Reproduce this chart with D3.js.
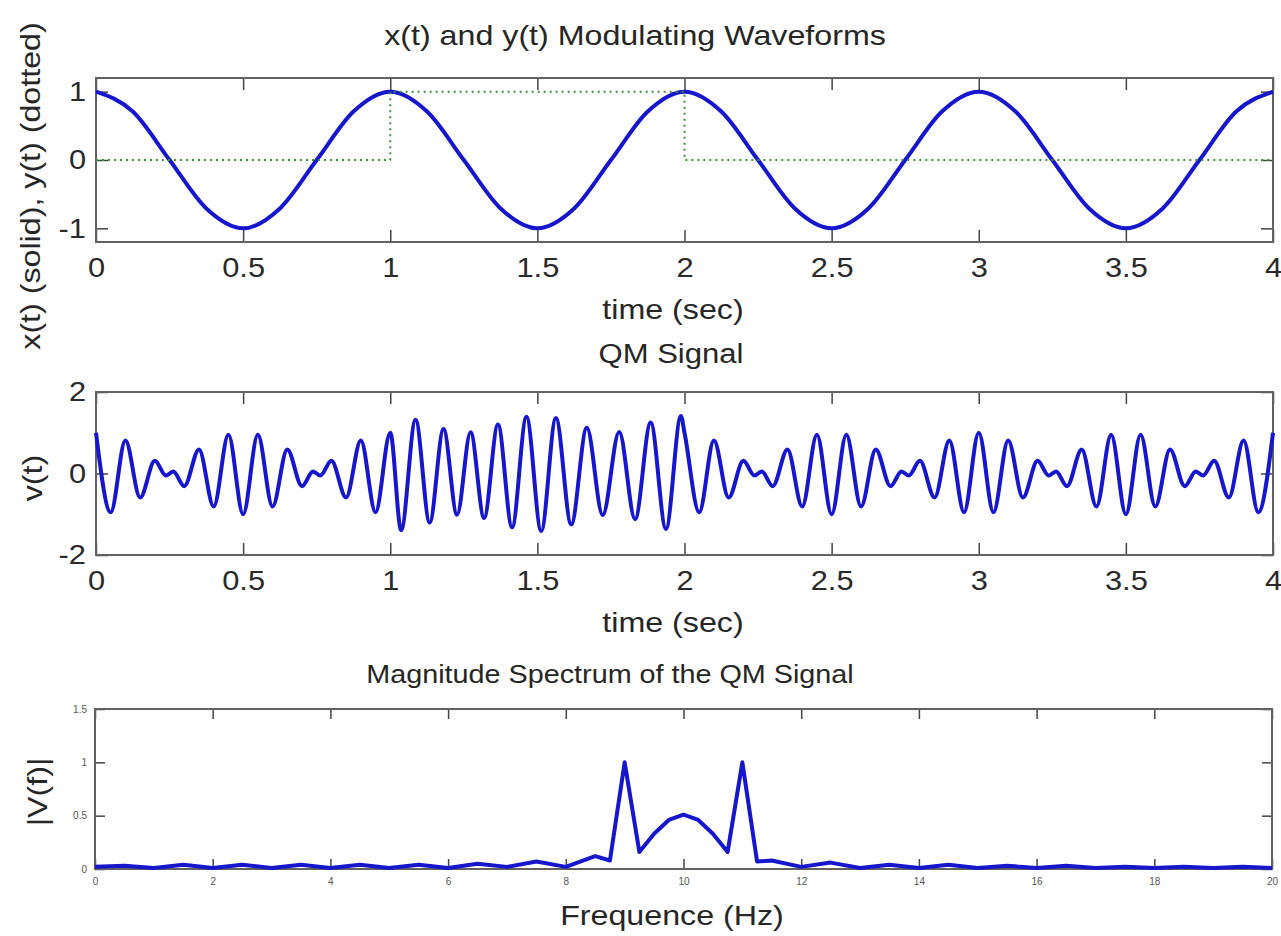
<!DOCTYPE html>
<html lang="en">
<head>
<meta charset="UTF-8" />
<script src="https://d3js.org/d3.v7.min.js"></script>
<style>
  body { margin: 0; background: #fff; }
  svg text { font-family: "Liberation Sans", Arial, sans-serif; fill: #262626; }
  .tick line { stroke: #444; stroke-width: 1.5; }
  .domain { display: none; }
</style>
<title>QM Signal</title>
</head>
<body>
<div id="chart"></div>
<script>
// ---- data ----
// x(t) (solid), sampled every 1/8 s
var xTime = [0, 0.125, 0.25, 0.375, 0.5, 0.625, 0.75, 0.875, 1, 1.125, 1.25, 1.375, 1.5, 1.625, 1.75, 1.875,
  2, 2.125, 2.25, 2.375, 2.5, 2.625, 2.75, 2.875, 3, 3.125, 3.25, 3.375, 3.5, 3.625, 3.75, 3.875, 4];
var xValue = [1, 0.71, 0, -0.71, -1, -0.71, 0, 0.71, 1, 0.71, 0, -0.71, -1, -0.71, 0, 0.71,
  1, 0.71, 0, -0.71, -1, -0.71, 0, 0.71, 1, 0.71, 0, -0.71, -1, -0.71, 0, 0.71, 1];

// y(t) (dotted) pulse
var yTime = [0, 1, 1, 2, 2, 4];
var yValue = [0, 0, 1, 1, 0, 0];

// v(t): peaks and troughs of the QM signal
var qmTime = [0, 0.05, 0.1, 0.15, 0.2, 0.2375, 0.2625, 0.3, 0.35, 0.4, 0.45, 0.5, 0.55, 0.6, 0.65, 0.7, 0.7375, 0.7625, 0.8, 0.85, 0.9, 0.95,
  1, 1.037, 1.086, 1.134, 1.181, 1.227, 1.273, 1.319, 1.366, 1.414, 1.463, 1.513, 1.563, 1.615, 1.668, 1.722, 1.778, 1.832, 1.885, 1.937, 1.988,
  2, 2.05, 2.1, 2.15, 2.2, 2.2375, 2.2625, 2.3, 2.35, 2.4, 2.45, 2.5, 2.55, 2.6, 2.65, 2.7, 2.7375, 2.7625, 2.8, 2.85, 2.9, 2.95,
  3, 3.05, 3.1, 3.15, 3.2, 3.2375, 3.2625, 3.3, 3.35, 3.4, 3.45, 3.5, 3.55, 3.6, 3.65, 3.7, 3.7375, 3.7625, 3.8, 3.85, 3.9, 3.95, 4];
var qmValue = [1, -0.95, 0.81, -0.59, 0.31, -0.05, 0.05, -0.31, 0.59, -0.81, 0.95, -1, 0.95, -0.81, 0.59, -0.31, 0.05, -0.05, 0.31, -0.59, 0.81, -0.95,
  1, -1.39, 1.32, -1.2, 1.09, -1.01, 1.01, -1.09, 1.2, -1.32, 1.39, -1.41, 1.36, -1.25, 1.12, -1.02, 1.02, -1.12, 1.25, -1.36, 1.41,
  1, -0.95, 0.81, -0.59, 0.31, -0.05, 0.05, -0.31, 0.59, -0.81, 0.95, -1, 0.95, -0.81, 0.59, -0.31, 0.05, -0.05, 0.31, -0.59, 0.81, -0.95,
  1, -0.95, 0.81, -0.59, 0.31, -0.05, 0.05, -0.31, 0.59, -0.81, 0.95, -1, 0.95, -0.81, 0.59, -0.31, 0.05, -0.05, 0.31, -0.59, 0.81, -0.95, 1];

// |V(f)|
var specFreq = [0, 0.5, 1, 1.5, 2, 2.5, 3, 3.5, 4, 4.5, 5, 5.5, 6, 6.5, 7, 7.5, 8, 8.5,
  8.75, 9, 9.25, 9.5, 9.75, 10, 10.25, 10.5, 10.75, 11, 11.25,
  11.5, 12, 12.5, 13, 13.5, 14, 14.5, 15, 15.5, 16, 16.5, 17, 17.5, 18, 18.5, 19, 19.5, 20];
var specMag = [0.02, 0.03, 0.01, 0.04, 0.01, 0.04, 0.01, 0.04, 0.01, 0.04, 0.01, 0.04, 0.01, 0.05, 0.02, 0.07, 0.02, 0.12,
  0.08, 1.0, 0.16, 0.33, 0.46, 0.51, 0.46, 0.33, 0.16, 1.0, 0.07,
  0.08, 0.02, 0.06, 0.01, 0.04, 0.01, 0.04, 0.01, 0.03, 0.01, 0.03, 0.01, 0.02, 0.01, 0.02, 0.01, 0.02, 0.01];

var timeTicks = [0, 0.5, 1, 1.5, 2, 2.5, 3, 3.5, 4];
var freqTicks = [0, 2, 4, 6, 8, 10, 12, 14, 16, 18, 20];

// ---- drawing ----
var blue = "#1616cc";
var svg = d3.select("#chart").append("svg").attr("width", 1281).attr("height", 936);
svg.append("rect").attr("width", 1281).attr("height", 936).attr("fill", "#fff");

// MATLAB text looks wider than Liberation Sans, so widen it a bit
function widen(sel, k) {
  sel.each(function () {
    var len = this.getComputedTextLength();
    d3.select(this).attr("textLength", len * k).attr("lengthAdjust", "spacingAndGlyphs");
  });
}

function label(txt, x, y, size, rot) {
  var t = svg.append("text")
    .attr("text-anchor", "middle")
    .style("font-size", size + "px")
    .text(txt);
  if (rot) t.attr("transform", "translate(" + x + "," + y + ")rotate(-90)");
  else t.attr("x", x).attr("y", y);
  widen(t, 1.15);
  return t;
}

// plain hyphen minus, like the original
var fmt = function (d) { return String(d); };

function panel(o) {
  var x = d3.scaleLinear().domain(o.xDomain).range([o.left, o.right]);
  var y = d3.scaleLinear().domain(o.yDomain).range([o.bottom, o.top]);
  var g = svg.append("g");

  var bottom = g.append("g").attr("transform", "translate(0," + o.bottom + ")")
    .call(d3.axisBottom(x).tickValues(o.xTicks).tickSize(-o.tickLen).tickPadding(o.padX).tickFormat(fmt));
  var left = g.append("g").attr("transform", "translate(" + o.left + ",0)")
    .call(d3.axisLeft(y).tickValues(o.yTicks).tickSize(-o.tickLen).tickPadding(o.padY).tickFormat(fmt));
  g.append("g").attr("transform", "translate(0," + o.top + ")")
    .call(d3.axisTop(x).tickValues(o.xTicks).tickSize(-o.tickLen).tickFormat(""));
  g.append("g").attr("transform", "translate(" + o.right + ",0)")
    .call(d3.axisRight(y).tickValues(o.yTicks).tickSize(-o.tickLen).tickFormat(""));

  g.selectAll(".tick text")
    .attr("font-family", null)
    .attr("font-size", null)
    .style("font-size", o.tickFont + "px")
    .style("fill", o.tickColor);
  if (o.tickFont > 20) {
    widen(bottom.selectAll(".tick text"), 1.1);
    widen(left.selectAll(".tick text"), 1.1);
  }

  g.append("rect")
    .attr("x", o.left).attr("y", o.top)
    .attr("width", o.right - o.left).attr("height", o.bottom - o.top)
    .attr("fill", "none").attr("stroke", "#626262").attr("stroke-width", 2);

  o.series.forEach(function (s) {
    var line = d3.line()
      .x(function (d, i) { return x(s.xs[i]); })
      .y(function (d, i) { return y(s.ys[i]); })
      .curve(s.curve);
    g.append("path")
      .datum(s.ys)
      .attr("d", line)
      .attr("fill", "none")
      .attr("stroke", s.color)
      .attr("stroke-width", s.width)
      .attr("stroke-linejoin", "round")
      .attr("stroke-dasharray", s.dash || null);
  });
}

// panel 1: modulating waveforms
panel({
  left: 96, right: 1273, top: 78, bottom: 242,
  xDomain: [0, 4], yDomain: [-1.2, 1.2],
  xTicks: timeTicks, yTicks: [-1, 0, 1],
  tickLen: 12, padX: 15, padY: 10, tickFont: 28, tickColor: "#2a2a2a",
  series: [
    { xs: xTime, ys: xValue, curve: d3.curveMonotoneX, color: blue, width: 4 },
    { xs: yTime, ys: yValue, curve: d3.curveLinear, color: "#3f8f3f", width: 2, dash: "2,4" }
  ]
});

// panel 2: QM signal
panel({
  left: 96, right: 1273, top: 392, bottom: 555,
  xDomain: [0, 4], yDomain: [-2, 2],
  xTicks: timeTicks, yTicks: [-2, 0, 2],
  tickLen: 12, padX: 15, padY: 10, tickFont: 28, tickColor: "#2a2a2a",
  series: [
    { xs: qmTime, ys: qmValue, curve: d3.curveMonotoneX, color: blue, width: 4 }
  ]
});

// panel 3: magnitude spectrum
panel({
  left: 95, right: 1272, top: 709, bottom: 869,
  xDomain: [0, 20], yDomain: [0, 1.5],
  xTicks: freqTicks, yTicks: [0, 0.5, 1, 1.5],
  tickLen: 10, padX: 9, padY: 8, tickFont: 10, tickColor: "#555",
  series: [
    { xs: specFreq, ys: specMag, curve: d3.curveLinear, color: blue, width: 4 }
  ]
});

// titles and axis labels
label("x(t) and y(t) Modulating Waveforms", 635, 45, 28);
label("time (sec)", 673, 319, 28);
label("QM Signal", 671, 363, 27);
label("time (sec)", 673, 632, 28);
label("Magnitude Spectrum of the QM Signal", 610, 683, 25);
label("Frequence (Hz)", 672, 925, 28);
label("x(t) (solid), y(t) (dotted)", 40, 186, 28, true);
label("v(t)", 42, 478, 28, true);
label("|V(f)|", 47, 792, 28, true);
</script>
</body>
</html>
